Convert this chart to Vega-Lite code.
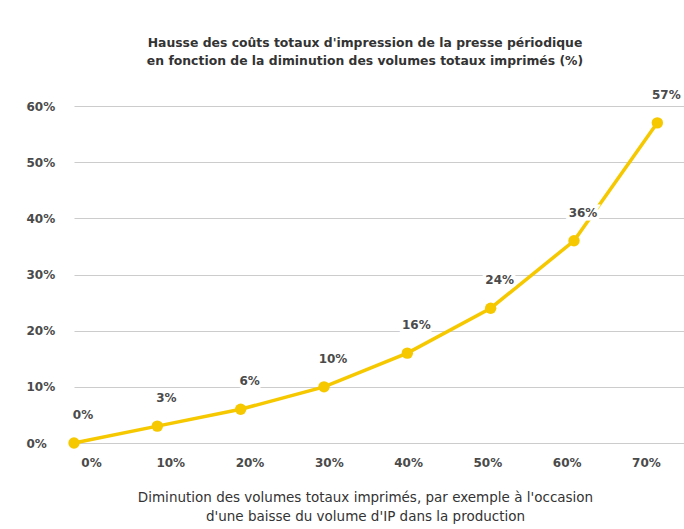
{
  "$schema": "https://vega.github.io/schema/vega-lite/v6.json",
  "width": 610,
  "height": 337,
  "autosize": {"type": "none"},
  "padding": {"left": 74, "top": 106, "right": 0, "bottom": 86},
  "background": "white",
  "config": {"view": {"stroke": null}, "font": "DejaVu Sans"},
  "title": {
    "text": ["Hausse des coûts totaux d'impression de la presse périodique", "en fonction de la diminution des volumes totaux imprimés (%)"],
    "fontSize": 12.4,
    "fontWeight": "bold",
    "color": "#333333",
    "anchor": "middle",
    "dx": -14,
    "offset": 21,
    "lineHeight": 18,
    "font": "DejaVu Sans"
  },
  "data": {
    "values": [
      {"diminution": 0, "hausse": 0, "label": "0%"},
      {"diminution": 10, "hausse": 3, "label": "3%"},
      {"diminution": 20, "hausse": 6, "label": "6%"},
      {"diminution": 30, "hausse": 10, "label": "10%"},
      {"diminution": 40, "hausse": 16, "label": "16%"},
      {"diminution": 50, "hausse": 24, "label": "24%"},
      {"diminution": 60, "hausse": 36, "label": "36%"},
      {"diminution": 70, "hausse": 57, "label": "57%"}
    ]
  },
  "layer": [
    {
      "mark": {"type": "point", "opacity": 0},
      "encoding": {
        "x": {
          "field": "diminution", "type": "quantitative",
          "scale": {"domain": [-2.14, 74.8], "nice": false, "zero": false},
          "axis": {
            "values": [0, 10, 20, 30, 40, 50, 60, 70],
            "labelExpr": "datum.value + '%'",
            "grid": false, "domain": false, "ticks": false,
            "labelPadding": 14, "labelFontSize": 12, "labelColor": "#4a4a4a", "labelFontWeight": "bold",
            "title": ["Diminution des volumes totaux imprimés, par exemple à l'occasion", "d'une baisse du volume d'IP dans la production"],
            "titleFontSize": 13.5, "titleFontWeight": "normal", "titleColor": "#333333",
            "titlePadding": 22, "titleLineHeight": 19, "titleX": 291
          }
        },
        "y": {
          "field": "hausse", "type": "quantitative",
          "scale": {"domain": [0, 60], "nice": false},
          "axis": {
            "values": [0, 10, 20, 30, 40, 50, 60],
            "labelExpr": "datum.value + '%'",
            "grid": true, "gridColor": "#cccccc", "gridWidth": 1.2,
            "domain": false, "ticks": false,
            "labelAlign": "left", "labelPadding": 48,
            "labelFontSize": 12, "labelColor": "#4a4a4a", "labelFontWeight": "bold",
            "title": null
          }
        }
      }
    },
    {
      "encoding": {
        "x": {"field": "diminution", "type": "quantitative", "scale": {"domain": [0, 73.2], "nice": false}, "axis": null},
        "y": {"field": "hausse", "type": "quantitative"}
      },
      "layer": [
        {"mark": {"type": "line", "color": "#F5C800", "strokeWidth": 3.5}},
        {"mark": {"type": "circle", "color": "#F5C800", "size": 130, "opacity": 1}},
        {"mark": {"type": "text", "dx": 9, "dy": -28, "fontSize": 12, "fontWeight": "bold", "stroke": "white", "strokeWidth": 7, "fill": "white"},
         "encoding": {"text": {"field": "label"}}},
        {"mark": {"type": "text", "dx": 9, "dy": -28, "fontSize": 12, "fontWeight": "bold", "fill": "#4a4a4a"},
         "encoding": {"text": {"field": "label"}}}
      ]
    }
  ],
  "resolve": {"scale": {"x": "independent"}}
}
